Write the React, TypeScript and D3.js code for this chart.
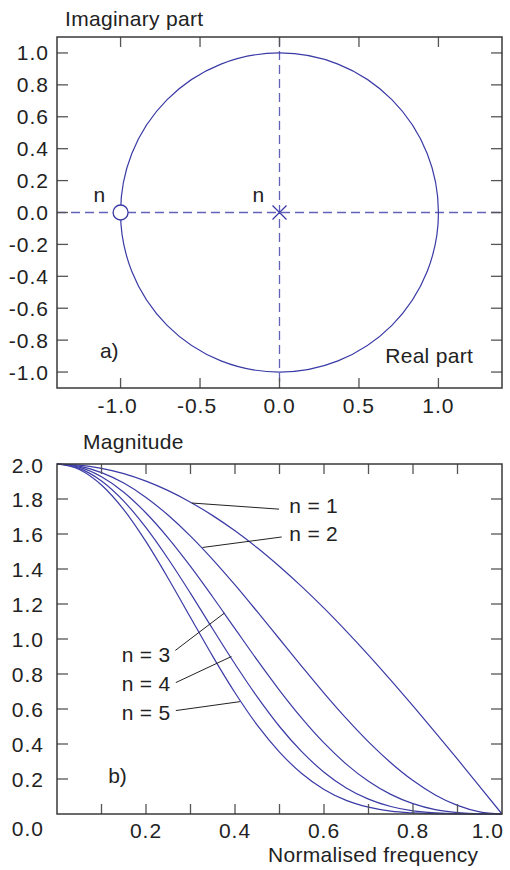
import React from "react";
import * as d3 from "d3";

// ---------- Data ----------
const zeros = [{ re: -1, im: 0 }];
const poles = [{ re: 0, im: 0 }];
const unitRadius = [1];

const topXTicks = [-1.0, -0.5, 0.0, 0.5, 1.0];
const topYTicks = [1.0, 0.8, 0.6, 0.4, 0.2, 0.0, -0.2, -0.4, -0.6, -0.8, -1.0];

const freq = [0, 0.05, 0.1, 0.15, 0.2, 0.25, 0.3, 0.35, 0.4, 0.45, 0.5, 0.55, 0.6, 0.65, 0.7, 0.75, 0.8, 0.85, 0.9, 0.95, 1.0];
const mag1 = [2.0, 1.994, 1.975, 1.945, 1.902, 1.848, 1.782, 1.705, 1.618, 1.521, 1.414, 1.299, 1.176, 1.045, 0.908, 0.765, 0.618, 0.467, 0.313, 0.157, 0.0];
const mag2 = [2.0, 1.988, 1.951, 1.891, 1.809, 1.707, 1.588, 1.454, 1.309, 1.156, 1.0, 0.844, 0.691, 0.546, 0.412, 0.293, 0.191, 0.109, 0.049, 0.012, 0.0];
const mag3 = [2.0, 1.982, 1.927, 1.839, 1.72, 1.577, 1.415, 1.24, 1.059, 0.879, 0.707, 0.548, 0.406, 0.285, 0.187, 0.112, 0.059, 0.025, 0.008, 0.001, 0.0];
const mag4 = [2.0, 1.975, 1.903, 1.788, 1.636, 1.457, 1.261, 1.057, 0.857, 0.669, 0.5, 0.356, 0.239, 0.149, 0.085, 0.043, 0.018, 0.006, 0.001, 0.0, 0.0];
const mag5 = [2.0, 1.969, 1.88, 1.739, 1.556, 1.346, 1.123, 0.901, 0.693, 0.508, 0.354, 0.231, 0.14, 0.078, 0.039, 0.016, 0.006, 0.001, 0.0, 0.0, 0.0];
const series = [mag1, mag2, mag3, mag4, mag5];

const botXMinor = [0.1, 0.2, 0.3, 0.4, 0.5, 0.6, 0.7, 0.8, 0.9];
const botXLabels = [0.2, 0.4, 0.6, 0.8, 1.0];
const botYTicks = [0.2, 0.4, 0.6, 0.8, 1.0, 1.2, 1.4, 1.6, 1.8];
const botYLabels = [2.0, 1.8, 1.6, 1.4, 1.2, 1.0, 0.8, 0.6, 0.4, 0.2];

// annotation: label text, curve point (f, m), leader end (f, m), label anchor (f, m)
const annotations = [
  { text: "n = 1", from: [0.303, 1.777], to: [0.499, 1.742], at: [0.522, 1.718], anchor: "start" },
  { text: "n = 2", from: [0.327, 1.523], to: [0.505, 1.583], at: [0.522, 1.558], anchor: "start" },
  { text: "n = 3", from: [0.376, 1.148], to: [0.266, 0.935], at: [0.255, 0.871], anchor: "end" },
  { text: "n = 4", from: [0.392, 0.9], to: [0.267, 0.751], at: [0.255, 0.701], anchor: "end" },
  { text: "n = 5", from: [0.411, 0.642], to: [0.267, 0.591], at: [0.255, 0.537], anchor: "end" },
];

// ---------- Styles ----------
const FONT = "'Liberation Sans', Arial, Helvetica, sans-serif";
const TXT = "#222";
const AXIS = "#3a3a3a";
const TICK = "#555";
const CURVE = "#3a3aa6";
const DASH = "#6262b8";
const FS = 21;
const LS_TEXT = 0.3;
const LS_NUM = 1;

const fmt = (v: number) => v.toFixed(1);

export default function App() {
  // top panel
  const L = 57, R = 502;
  const tT = 37, tB = 388;
  const xT = d3.scaleLinear().domain([-1.4, 1.4]).range([L, R]);
  const yT = d3.scaleLinear().domain([-1.1, 1.1]).range([tB, tT]);

  // bottom panel
  const bT = 464, bB = 814;
  const xB = d3.scaleLinear().domain([0, 1]).range([L, R]);
  const yB = d3.scaleLinear().domain([0, 2]).range([bB, bT]);

  const line = d3
    .line<number>()
    .x((_, i) => xB(freq[i]))
    .y((d) => yB(d))
    .curve(d3.curveMonotoneX);

  const tickLen = 10;

  return (
    <svg
      width={510}
      height={870}
      style={{ position: "absolute", left: 0, top: 0, background: "#fff" }}
      fontFamily={FONT}
    >
      <rect x={0} y={0} width={510} height={870} fill="#fff" />
      {/* ===== Top panel ===== */}
      <text x={65} y={26} fontSize={FS} fill={TXT} letterSpacing={LS_TEXT}>Imaginary part</text>

      {/* dashed axes */}
      <line x1={L} x2={R} y1={yT(0)} y2={yT(0)} stroke={DASH} strokeWidth={1.3} strokeDasharray="9,5" />
      <line x1={xT(0)} x2={xT(0)} y1={tT} y2={tB} stroke={DASH} strokeWidth={1.3} strokeDasharray="9,5" />

      {/* unit circle */}
      {unitRadius.map((r, i) => (
        <ellipse
          key={i}
          cx={xT(0)}
          cy={yT(0)}
          rx={xT(r) - xT(0)}
          ry={yT(0) - yT(r)}
          fill="none"
          stroke={CURVE}
          strokeWidth={1.2}
        />
      ))}

      {/* zeros */}
      {zeros.map((z, i) => (
        <circle key={i} cx={xT(z.re)} cy={yT(z.im)} r={7.5} fill="#fff" stroke={CURVE} strokeWidth={1.3} />
      ))}
      {/* poles */}
      {poles.map((p, i) => (
        <g key={i} stroke={CURVE} strokeWidth={1.3}>
          <line x1={xT(p.re) - 7} x2={xT(p.re) + 7} y1={yT(p.im) - 7} y2={yT(p.im) + 7} />
          <line x1={xT(p.re) - 7} x2={xT(p.re) + 7} y1={yT(p.im) + 7} y2={yT(p.im) - 7} />
        </g>
      ))}

      <text x={xT(-1.17)} y={yT(0.065)} fontSize={FS} fill={TXT}>n</text>
      <text x={xT(-0.17)} y={yT(0.065)} fontSize={FS} fill={TXT}>n</text>
      <text x={xT(-1.13)} y={yT(-0.915)} fontSize={FS} fill={TXT}>a)</text>
      <text x={xT(0.665)} y={yT(-0.945)} fontSize={FS} fill={TXT} letterSpacing={LS_TEXT}>Real part</text>

      {/* ticks */}
      <g stroke={TICK} strokeWidth={1.3}>
        {topXTicks.map((t) => (
          <g key={"tx" + t}>
            <line x1={xT(t)} x2={xT(t)} y1={tT} y2={tT + tickLen} />
            <line x1={xT(t)} x2={xT(t)} y1={tB} y2={tB - tickLen} />
          </g>
        ))}
        {topYTicks.map((t) => (
          <g key={"ty" + t}>
            <line x1={L} x2={L + 11} y1={yT(t)} y2={yT(t)} />
            <line x1={R} x2={R - 11} y1={yT(t)} y2={yT(t)} />
          </g>
        ))}
      </g>
      <rect x={L} y={tT} width={R - L} height={tB - tT} fill="none" stroke={AXIS} strokeWidth={1.5} />

      {topYTicks.map((t) => (
        <text key={"tyl" + t} x={49} y={yT(t) + 7.5} fontSize={FS} fill={TXT} textAnchor="end" letterSpacing={LS_NUM}>
          {fmt(t)}
        </text>
      ))}
      {topXTicks.map((t) => (
        <text key={"txl" + t} x={xT(t) - (t < 0 ? 3 : 0)} y={413} fontSize={FS} fill={TXT} textAnchor="middle" letterSpacing={LS_NUM}>
          {fmt(t)}
        </text>
      ))}

      {/* ===== Bottom panel ===== */}
      <text x={83} y={449} fontSize={FS} fill={TXT} letterSpacing={LS_TEXT}>Magnitude</text>

      {series.map((s, i) => (
        <path key={"s" + i} d={line(s) || ""} fill="none" stroke={CURVE} strokeWidth={1.2} />
      ))}

      {annotations.map((a, i) => (
        <g key={"an" + i}>
          <line x1={xB(a.from[0])} y1={yB(a.from[1])} x2={xB(a.to[0])} y2={yB(a.to[1])} stroke="#222" strokeWidth={1} />
          <text x={xB(a.at[0])} y={yB(a.at[1])} fontSize={FS} fill={TXT} textAnchor={a.anchor as any} letterSpacing={LS_TEXT}>
            {a.text}
          </text>
        </g>
      ))}

      <text x={xB(0.115)} y={yB(0.18)} fontSize={FS} fill={TXT}>b)</text>

      <g stroke={TICK} strokeWidth={1.3}>
        {botXMinor.map((t) => (
          <g key={"bx" + t}>
            <line x1={xB(t)} x2={xB(t)} y1={bT} y2={bT + tickLen} />
            <line x1={xB(t)} x2={xB(t)} y1={bB} y2={bB - tickLen} />
          </g>
        ))}
        {botYTicks.map((t) => (
          <g key={"by" + t}>
            <line x1={L} x2={L + 11} y1={yB(t)} y2={yB(t)} />
            <line x1={R} x2={R - 11} y1={yB(t)} y2={yB(t)} />
          </g>
        ))}
      </g>
      <rect x={L} y={bT} width={R - L} height={bB - bT} fill="none" stroke={AXIS} strokeWidth={1.5} />

      {botYLabels.map((t) => (
        <text key={"byl" + t} x={44} y={yB(t) + (t === 2 ? 9 : 7.5)} fontSize={FS} fill={TXT} textAnchor="end" letterSpacing={LS_NUM}>
          {fmt(t)}
        </text>
      ))}
      <text x={44} y={836} fontSize={FS} fill={TXT} textAnchor="end" letterSpacing={LS_NUM}>{fmt(0)}</text>
      {botXLabels.map((t) => (
        <text
          key={"bxl" + t}
          x={t === 1 ? 504 : xB(t)}
          y={838}
          fontSize={FS}
          fill={TXT}
          textAnchor={t === 1 ? "end" : "middle"}
          letterSpacing={LS_NUM}
        >
          {fmt(t)}
        </text>
      ))}
      <text x={268} y={862} fontSize={FS} fill={TXT} letterSpacing={LS_TEXT}>Normalised frequency</text>
    </svg>
  );
}
